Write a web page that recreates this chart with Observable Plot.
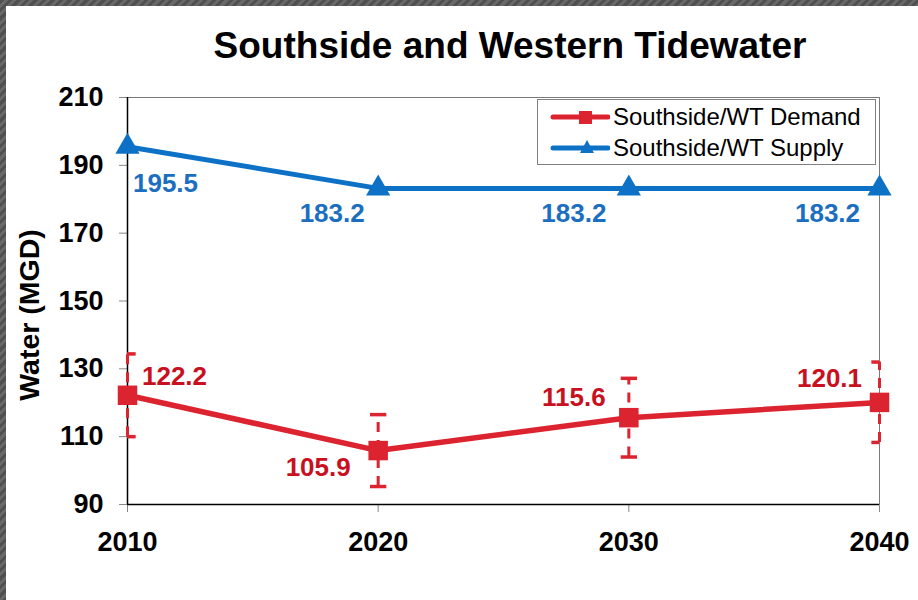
<!DOCTYPE html>
<html>
<head>
<meta charset="utf-8">
<script src="https://cdn.jsdelivr.net/npm/d3@7"></script>
<script src="https://cdn.jsdelivr.net/npm/@observablehq/plot@0.6"></script>
<style>
  html, body { margin: 0; padding: 0; }
  body { width: 918px; height: 600px; overflow: hidden;
    background: repeating-linear-gradient(135deg, #505050 0 3px, #686868 3px 6px); }
  #panel { position: absolute; left: 6px; top: 6px; width: 912px; height: 594px; background: #fff; }
  #chart { position: absolute; left: 0; top: 0; }
  #title { position: absolute; left: 0; width: 1020px; top: 25px; text-align: center; line-height: 1;
    font: bold 37px "Liberation Sans", Arial, sans-serif; color: #000; white-space: nowrap; }
  #legend { position: absolute; left: 537px; top: 99px; width: 339px; height: 66px;
    border: 1px solid #808080; background: #fff; box-sizing: border-box;
    font: 24px "Liberation Sans", Arial, sans-serif; color: #000; }
  .lrow { position: absolute; left: 12px; height: 26px; display: flex; align-items: center; white-space: nowrap; }
  .lrow svg { margin-right: 3px; }
</style>
</head>
<body>
<div id="panel"></div>
<div id="chart"></div>
<div id="title">Southside and Western Tidewater</div>
<div id="legend"></div>
<script>
const years = [2010, 2020, 2030, 2040];
const demand = [122.2, 105.9, 115.6, 120.1];
const demandLow = [110.0, 95.3, 104.0, 108.3];
const demandHigh = [134.4, 116.5, 127.2, 132.0];
const supply = [195.5, 183.2, 183.2, 183.2];
const yTicks = [90, 110, 130, 150, 170, 190, 210];
const seriesNames = ["Southside/WT Demand", "Southside/WT Supply"];

const red = "#DC2330";
const redText = "#C8101E";
const blue = "#0D72C6";
const blueText = "#1C6FC0";

const dem = years.map((y, i) => ({year: y, v: demand[i], lo: demandLow[i], hi: demandHigh[i], i}));
const sup = years.map((y, i) => ({year: y, v: supply[i], i}));

const capSymbol = { draw(ctx, size) { const w = Math.sqrt(size); ctx.moveTo(-w, 0); ctx.lineTo(w, 0); } };
const fmt = d3.format(".1f");

const labelMark = (data, idx, color, dx, dy) => Plot.text(data.filter(d => d.i === idx), {
  x: "year", y: "v", text: d => fmt(d.v), dx, dy, fill: color,
  fontSize: 26, fontWeight: "bold", textAnchor: "middle"
});

const chart = Plot.plot({
  width: 918, height: 600,
  marginLeft: 127, marginRight: 39, marginTop: 97, marginBottom: 96,
  style: { fontFamily: "'Liberation Sans', Arial, sans-serif", background: "transparent", overflow: "visible" },
  x: { domain: [2010, 2040], label: null },
  y: { domain: [90, 210], label: null },
  marks: [
    Plot.frame({ stroke: "#7a7a7a", strokeWidth: 1 }),
    Plot.axisX({ ticks: years, tickFormat: d => String(d), tickSize: 8, tickPadding: 19, fontSize: 27, fontWeight: "bold", stroke: "#888", fill: "#000", label: null }),
    Plot.axisY({ ticks: yTicks, tickSize: 8, tickPadding: 16, fontSize: 27, fontWeight: "bold", stroke: "#888", fill: "#000", label: null }),
    Plot.ruleY([90], { stroke: "#000", strokeWidth: 1.5 }),
    Plot.ruleX([2010], { stroke: "#000", strokeWidth: 1.5 }),
    Plot.ruleX(dem, { x: "year", y1: "lo", y2: "hi", stroke: red, strokeWidth: 3, strokeDasharray: "10,8" }),
    Plot.dot(dem, { x: "year", y: "lo", symbol: capSymbol, r: 4.6, stroke: red, strokeWidth: 3.5, fill: "none", clip: true }),
    Plot.dot(dem, { x: "year", y: "hi", symbol: capSymbol, r: 4.6, stroke: red, strokeWidth: 3.5, fill: "none", clip: true }),
    Plot.line(sup, { x: "year", y: "v", stroke: blue, strokeWidth: 5 }),
    Plot.dot(sup, { x: "year", y: "v", symbol: "triangle", r: 9, fill: blue, stroke: "none" }),
    Plot.line(dem, { x: "year", y: "v", stroke: red, strokeWidth: 5.5 }),
    Plot.dot(dem, { x: "year", y: "v", symbol: "square", r: 11, fill: red, stroke: "none" }),
    labelMark(sup, 0, blueText, 38, 37),
    labelMark(sup, 1, blueText, -46, 25),
    labelMark(sup, 2, blueText, -55, 25),
    labelMark(sup, 3, blueText, -52, 25),
    labelMark(dem, 0, redText, 47, -19),
    labelMark(dem, 1, redText, -60, 17),
    labelMark(dem, 2, redText, -55, -20),
    labelMark(dem, 3, redText, -50, -24),
    Plot.text(["Water (MGD)"], { frameAnchor: "left", dx: -98, dy: 14, rotate: -90, fontSize: 28.5, fontWeight: "bold", fill: "#000", textAnchor: "middle" })
  ]
});
document.getElementById("chart").appendChild(chart);

// legend
const legend = document.getElementById("legend");
const items = [
  { name: seriesNames[0], color: red, shape: "square" },
  { name: seriesNames[1], color: blue, shape: "triangle" }
];
items.forEach((it, k) => {
  const row = document.createElement("div");
  row.className = "lrow";
  row.style.top = (4 + k * 31) + "px";
  const sym = it.shape === "square"
    ? `<rect x="29" y="5" width="13" height="13" fill="${it.color}"/>`
    : `<path d="M37,3 L44,16 L30,16 Z" fill="${it.color}"/>`;
  row.innerHTML = `<svg width="60" height="22"><line x1="3" y1="11" x2="58" y2="11" stroke="${it.color}" stroke-width="5" stroke-linecap="round"/>${sym}</svg><span>${it.name}</span>`;
  legend.appendChild(row);
});
</script>
</body>
</html>
